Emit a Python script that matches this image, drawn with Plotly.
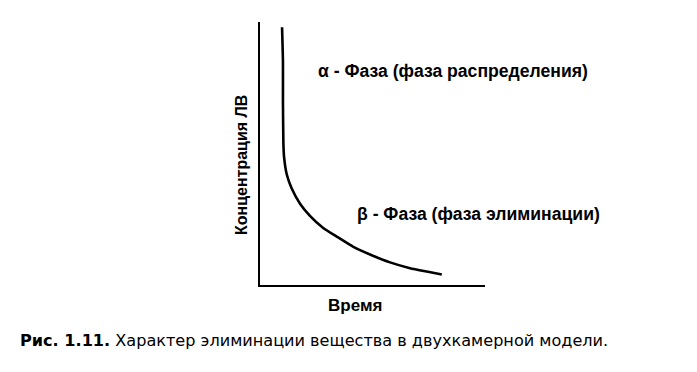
import plotly.graph_objects as go

# Data (arbitrary units: time 0..10, concentration 0..10)
time = [0.98, 1.02, 1.02, 1.04, 1.07, 1.19, 1.41, 1.78, 2.22, 2.81, 3.41, 4.15,
        4.89, 5.78, 6.67, 7.41, 8.08]
concentration = [9.80, 8.51, 6.94, 5.37, 4.86, 4.20, 3.67, 3.09, 2.63, 2.17, 1.84,
                 1.45, 1.16, 0.86, 0.64, 0.51, 0.40]

alpha_label = "α - Фаза (фаза распределения)"
beta_label = "β - Фаза (фаза элиминации)"
y_title = "Концентрация ЛВ"
x_title = "Время"
caption_bold = "Рис. 1.11."
caption_text = " Характер элиминации вещества в двухкамерной модели."

FONT = "Liberation Sans, Arial, sans-serif"
CAP_FONT = "DejaVu Sans, Verdana, sans-serif"

fig = go.Figure()
fig.add_trace(go.Scatter(
    x=time, y=concentration, mode="lines",
    line=dict(color="black", width=2.6, shape="spline", smoothing=0.5),
    hoverinfo="skip", showlegend=False,
))

OFF = 8  # page body margin
W, H = 689, 364
L, R, T, B = 260 - OFF, 212, 22 - OFF, 95 - OFF
pw, ph = W - L - R, H - T - B

def px(xp):
    return (xp - OFF - L) / pw

def py(yp):
    return (H - B - (yp - OFF)) / ph

fig.update_layout(
    width=W, height=H,
    margin=dict(l=L, r=R, t=T, b=B),
    paper_bgcolor="white", plot_bgcolor="white",
    font=dict(family=FONT, color="black"),
    xaxis=dict(range=[0, 10], showline=True, linecolor="black", linewidth=2,
               showgrid=False, zeroline=False, showticklabels=False, ticks=""),
    yaxis=dict(range=[0, 10], showline=True, linecolor="black", linewidth=2,
               showgrid=False, zeroline=False, showticklabels=False, ticks=""),
    annotations=[
        dict(text="<b>" + alpha_label + "</b>", xref="paper", yref="paper", x=px(316), y=py(71),
             xanchor="left", yanchor="middle", showarrow=False,
             font=dict(size=17.6, family=FONT)),
        dict(text="<b>" + beta_label + "</b>", xref="paper", yref="paper", x=px(355), y=py(214),
             xanchor="left", yanchor="middle", showarrow=False,
             font=dict(size=17.6, family=FONT)),
        dict(text="<b>" + y_title + "</b>", xref="paper", yref="paper", x=px(241), y=py(165),
             xanchor="center", yanchor="middle", showarrow=False, textangle=-90,
             font=dict(size=16, family=FONT)),
        dict(text="<b>" + x_title + "</b>", xref="paper", yref="paper", x=px(355), y=py(305),
             xanchor="center", yanchor="middle", showarrow=False,
             font=dict(size=17, family=FONT)),
        dict(text="<b>" + caption_bold + "</b>" + caption_text,
             xref="paper", yref="paper", x=px(18), y=py(340),
             xanchor="left", yanchor="middle", showarrow=False,
             font=dict(size=16.1, family=CAP_FONT)),
    ],
)

fig.write_html("out.html")
